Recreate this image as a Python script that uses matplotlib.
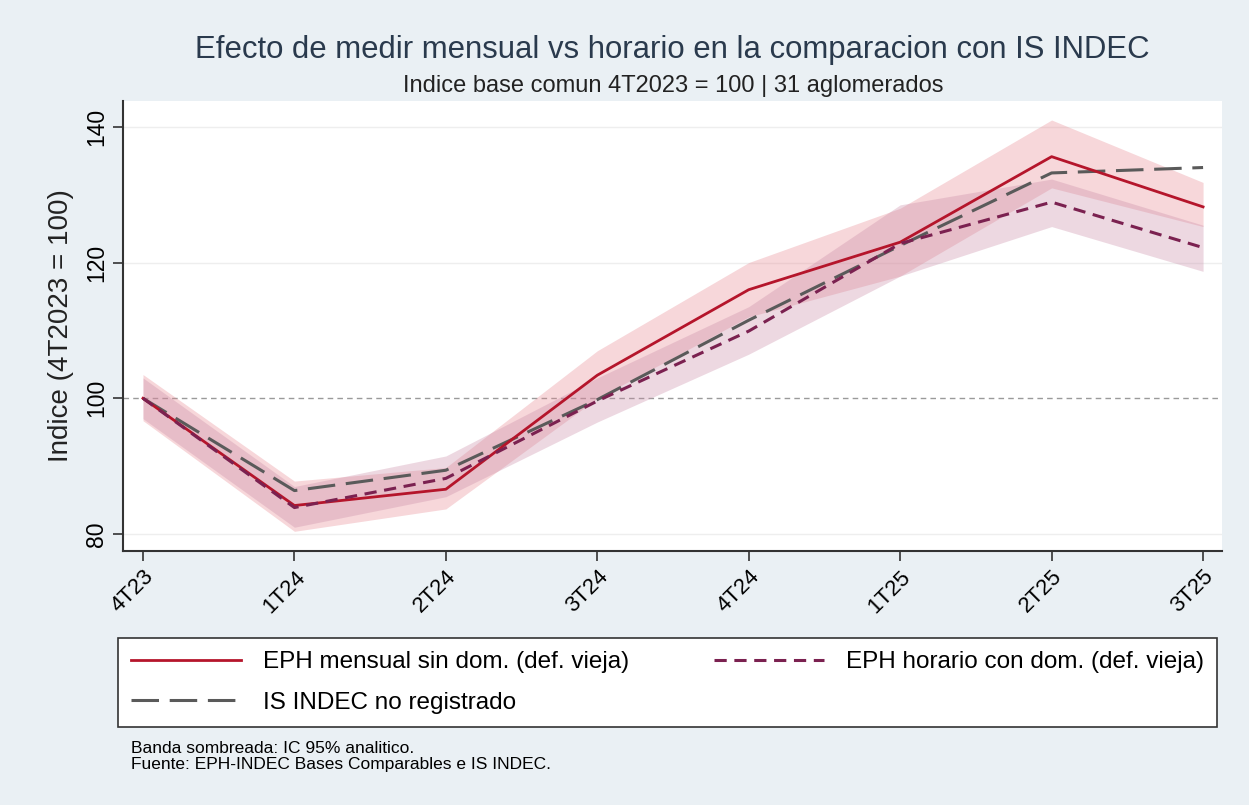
import matplotlib
matplotlib.use("Agg")
import matplotlib.pyplot as plt
import numpy as np

plt.rcParams['font.family'] = ['Liberation Sans', 'DejaVu Sans']

# ---datos---
trimestres = ['4T23', '1T24', '2T24', '3T24', '4T24', '1T25', '2T25', '3T25']
mensual = [100, 84.2, 86.6, 103.4, 116.0, 123.0, 135.6, 128.2]
mensual_lo = [96.7, 80.4, 83.7, 100.0, 112.0, 118.0, 131.0, 125.3]
mensual_hi = [103.5, 87.8, 89.8, 107.0, 120.0, 128.0, 141.0, 131.8]
horario = [100, 83.9, 88.2, 99.6, 109.9, 122.8, 128.9, 122.2]
horario_lo = [97.0, 81.0, 85.5, 96.5, 106.5, 118.0, 125.3, 118.7]
horario_hi = [103.0, 87.0, 91.5, 103.0, 113.5, 128.5, 132.3, 125.5]
is_indec = [100, 86.4, 89.4, 99.8, 111.5, 122.5, 133.2, 134.0]

c_bg = '#eaf0f4'
c_red = '#b5152b'
c_pur = '#7b2150'
c_gray = '#5a5a5a'

fig = plt.figure(figsize=(12.49, 8.05), dpi=100, facecolor=c_bg)
ax = fig.add_axes([123/1249, 1-551/805, (1222-123)/1249, (551-101)/805])
ax.set_facecolor('white')

x = np.arange(len(trimestres))

# ---bandas---
ax.fill_between(x, mensual_lo, mensual_hi, color='#e8868f', alpha=0.33, lw=0, zorder=2)
ax.fill_between(x, horario_lo, horario_hi, color='#c98aa6', alpha=0.33, lw=0, zorder=2)

# ---lineas---
ax.axhline(100, color='#9a9a9a', lw=1.0, ls=(0, (4, 3)), zorder=1)
l1, = ax.plot(x, mensual, color=c_red, lw=2.0, zorder=4)
l2, = ax.plot(x, horario, color=c_pur, lw=2.2, ls=(0, (4, 2.5)), zorder=4)
l3, = ax.plot(x, is_indec, color=c_gray, lw=2.2, ls=(0, (9, 3.5)), zorder=3)

ax.set_xlim(-0.132, 7.125)
ax.set_ylim(77.5, 143.8)
ax.set_yticks([80, 100, 120, 140])
ax.set_yticklabels(['80', '100', '120', '140'], rotation=90, va='center', fontsize=16.5)
ax.set_xticks(x)
ax.set_xticklabels(trimestres, rotation=45, ha='right', rotation_mode='anchor', fontsize=16)
ax.tick_params(axis='both', length=7, width=1.2, color='#333333')
ax.tick_params(axis='x', pad=4)

for y in [80, 120, 140]:
    ax.axhline(y, color='#eeeeee', lw=1.0, zorder=0)

for s in ['top', 'right']:
    ax.spines[s].set_visible(False)
for s in ['left', 'bottom']:
    ax.spines[s].set_color('#333333')
    ax.spines[s].set_linewidth(1.5)

ax.set_ylabel('Indice (4T2023 = 100)', fontsize=20, color='#222222', labelpad=8)

# ---titulos---
fig.text(672/1249, 1-50/805, 'Efecto de medir mensual vs horario en la comparacion con IS INDEC',
         ha='center', va='center', fontsize=22.4, color='#2a3a4d')
fig.text(673/1249, 1-86/805, 'Indice base comun 4T2023 = 100 | 31 aglomerados',
         ha='center', va='center', fontsize=17, color='#222222')

# ---leyenda---
leg = fig.legend([l1, l3, l2],
                 ['EPH mensual sin dom. (def. vieja)', 'IS INDEC no registrado',
                  'EPH horario con dom. (def. vieja)'],
                 ncol=2, loc='upper left', mode='expand',
                 bbox_to_anchor=(118/1249, 1-729/805, (1217-118)/1249, 91/805),
                 borderaxespad=0,
                 fontsize=17.5, frameon=True, fancybox=False, handlelength=4.5,
                 borderpad=0.55, labelspacing=0.75, handletextpad=0.9,
                 framealpha=1, facecolor='white')
leg.get_frame().set_edgecolor('#333333')
leg.get_frame().set_linewidth(1.2)

fig.text(131/1249, 1-748/805, 'Banda sombreada: IC 95% analitico.', fontsize=12.5, va='center')
fig.text(131/1249, 1-764/805, 'Fuente: EPH-INDEC Bases Comparables e IS INDEC.', fontsize=12.5, va='center')

fig.savefig('out.png', dpi=100, facecolor=c_bg)
